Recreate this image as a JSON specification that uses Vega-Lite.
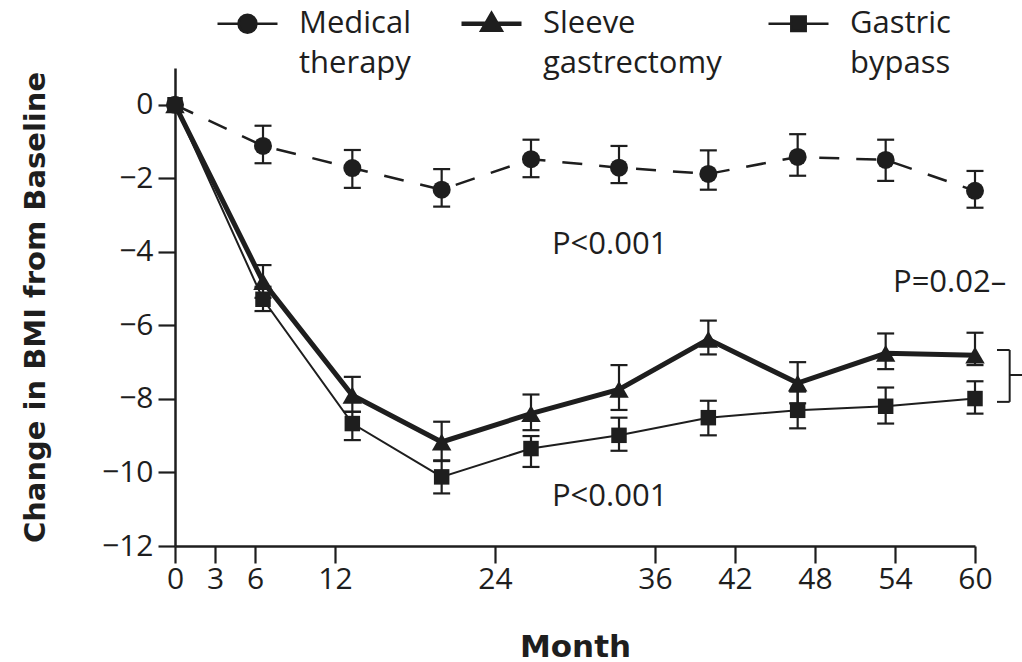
{
  "$schema": "https://vega.github.io/schema/vega-lite/v6.json",
  "width": 800,
  "height": 478,
  "autosize": {"type": "none"},
  "padding": {"left": 175, "top": 68, "right": 47, "bottom": 116},
  "background": "white",
  "config": {
    "view": {"stroke": null},
    "font": "Open Sans",
    "axis": {
      "domainColor": "#1e1e1e", "domainWidth": 2.5,
      "tickColor": "#1e1e1e", "tickWidth": 2.2, "tickSize": 17,
      "labelFont": "Open Sans", "labelFontSize": 30, "labelColor": "#1e1e1e",
      "titleFont": "DejaVu Sans", "titleFontWeight": "bold", "titleColor": "#1e1e1e",
      "grid": false
    }
  },
  "datasets": {
    "series": [
      {"group": "Gastric bypass", "month": 0, "bmi": 0, "lo": null, "hi": null},
      {"group": "Gastric bypass", "month": 6.6, "bmi": -5.29, "lo": -5.61, "hi": -4.95},
      {"group": "Gastric bypass", "month": 13.3, "bmi": -8.67, "lo": -9.12, "hi": -8.35},
      {"group": "Gastric bypass", "month": 20, "bmi": -10.12, "lo": -10.57, "hi": -9.69},
      {"group": "Gastric bypass", "month": 26.7, "bmi": -9.35, "lo": -9.85, "hi": -9.01},
      {"group": "Gastric bypass", "month": 33.3, "bmi": -8.99, "lo": -9.41, "hi": -8.51},
      {"group": "Gastric bypass", "month": 40, "bmi": -8.51, "lo": -8.99, "hi": -8.05},
      {"group": "Gastric bypass", "month": 46.7, "bmi": -8.31, "lo": -8.8, "hi": -7.8},
      {"group": "Gastric bypass", "month": 53.3, "bmi": -8.2, "lo": -8.67, "hi": -7.69},
      {"group": "Gastric bypass", "month": 60, "bmi": -7.99, "lo": -8.4, "hi": -7.52},
      {"group": "Sleeve gastrectomy", "month": 0, "bmi": 0, "lo": null, "hi": null},
      {"group": "Sleeve gastrectomy", "month": 6.6, "bmi": -4.81, "lo": -5.25, "hi": -4.36},
      {"group": "Sleeve gastrectomy", "month": 13.3, "bmi": -7.9, "lo": -8.35, "hi": -7.4},
      {"group": "Sleeve gastrectomy", "month": 20, "bmi": -9.17, "lo": -9.67, "hi": -8.62},
      {"group": "Sleeve gastrectomy", "month": 26.7, "bmi": -8.4, "lo": -8.85, "hi": -7.88},
      {"group": "Sleeve gastrectomy", "month": 33.3, "bmi": -7.74, "lo": -8.3, "hi": -7.08},
      {"group": "Sleeve gastrectomy", "month": 40, "bmi": -6.38, "lo": -6.79, "hi": -5.87},
      {"group": "Sleeve gastrectomy", "month": 46.7, "bmi": -7.57, "lo": -8.12, "hi": -7.0},
      {"group": "Sleeve gastrectomy", "month": 53.3, "bmi": -6.76, "lo": -7.19, "hi": -6.22},
      {"group": "Sleeve gastrectomy", "month": 60, "bmi": -6.81, "lo": -7.08, "hi": -6.2},
      {"group": "Medical therapy", "month": 0, "bmi": 0, "lo": null, "hi": null},
      {"group": "Medical therapy", "month": 6.6, "bmi": -1.12, "lo": -1.59, "hi": -0.57},
      {"group": "Medical therapy", "month": 13.3, "bmi": -1.72, "lo": -2.26, "hi": -1.23},
      {"group": "Medical therapy", "month": 20, "bmi": -2.31, "lo": -2.77, "hi": -1.75},
      {"group": "Medical therapy", "month": 26.7, "bmi": -1.48, "lo": -1.97, "hi": -0.95},
      {"group": "Medical therapy", "month": 33.3, "bmi": -1.71, "lo": -2.13, "hi": -1.12},
      {"group": "Medical therapy", "month": 40, "bmi": -1.88, "lo": -2.31, "hi": -1.24},
      {"group": "Medical therapy", "month": 46.7, "bmi": -1.42, "lo": -1.93, "hi": -0.8},
      {"group": "Medical therapy", "month": 53.3, "bmi": -1.5, "lo": -2.07, "hi": -0.95},
      {"group": "Medical therapy", "month": 60, "bmi": -2.34, "lo": -2.8, "hi": -1.8}
    ],
    "notes": [
      {"label": "P<0.001", "month": 32.6, "bmi": -3.81},
      {"label": "P<0.001", "month": 32.6, "bmi": -10.68}
    ],
    "notes2": [
      {"label": "P=0.02–", "month": 53.85, "bmi": -4.85}
    ],
    "bracket": [
      {"x1": 62.6, "x2": 62.6, "y1": -6.67, "y2": -8.08},
      {"x1": 61.65, "x2": 62.6, "y1": -6.67, "y2": -6.67},
      {"x1": 61.65, "x2": 62.6, "y1": -8.08, "y2": -8.08},
      {"x1": 62.6, "x2": 63.7, "y1": -7.35, "y2": -7.35}
    ]
  },
  "layer": [
    {
      "data": {"name": "series"},
      "transform": [{"filter": "datum.group === 'Medical therapy'"}],
      "mark": {"type": "line", "strokeCap": "butt", "strokeWidth": 2.5, "strokeDash": [20, 17]},
      "encoding": {
        "x": {"field": "month", "type": "quantitative",
          "scale": {"domain": [0, 60], "nice": false, "zero": false},
          "axis": {"values": [0, 3, 6, 12, 24, 36, 42, 48, 54, 60], "labelPadding": 1, "title": "Month", "titleFontSize": 31, "titlePadding": 38, "labelFlush": false}},
        "y": {"field": "bmi", "type": "quantitative",
          "scale": {"domain": [-12, 1], "nice": false, "zero": false},
          "axis": {"values": [-12, -10, -8, -6, -4, -2, 0], "format": "d", "labelPadding": 5, "title": "Change in BMI from Baseline", "titleFontSize": 29, "titlePadding": 51}},
        "order": {"field": "month", "type": "quantitative"},
        "color": {"field": "group", "type": "nominal",
          "scale": {"domain": ["Medical therapy", "Sleeve gastrectomy", "Gastric bypass"], "range": ["#1e1e1e", "#1e1e1e", "#1e1e1e"]},
          "legend": {"orient": "none", "legendX": 57, "legendY": -60, "direction": "horizontal", "title": null,
            "padding": 0, "labelFont": "Open Sans", "labelFontSize": 31, "labelColor": "#1e1e1e",
            "labelLimit": 400, "labelOffset": 36, "symbolSize": 3600, "columnPadding": 41,
            "symbolStrokeWidth": 2, "symbolOpacity": 1,
            "encode": {
              "symbols": {"update": {
                "shape": {"signal": "datum.value === 'Medical therapy' ? 'M-1,0H1M0.3,0A0.3,0.3,0,1,1,-0.3,0A0.3,0.3,0,1,1,0.3,0Z' : datum.value === 'Sleeve gastrectomy' ? 'M-1,0H1M0,-0.3L0.29,0.2L-0.29,0.2Z' : 'M-1,0H1M-0.24,-0.24H0.24V0.24H-0.24Z'"},
                "fill": {"value": "#1e1e1e"},
                "strokeWidth": {"signal": "datum.value === 'Sleeve gastrectomy' ? 4.5 : 2.5"}
              }},
              "labels": {"update": {"lineBreak": {"value": " "}, "lineHeight": {"value": 40}}}
            }}}
      }
    },
    {
      "data": {"name": "series"},
      "transform": [{"filter": "datum.group === 'Sleeve gastrectomy'"}],
      "mark": {"type": "line", "strokeCap": "butt", "strokeJoin": "miter", "strokeWidth": 5},
      "encoding": {
        "x": {"field": "month", "type": "quantitative", "scale": {"domain": [0, 60], "nice": false, "zero": false}, "title": "Month"},
        "y": {"field": "bmi", "type": "quantitative", "scale": {"domain": [-12, 1], "nice": false, "zero": false}, "title": "Change in BMI from Baseline"},
        "order": {"field": "month", "type": "quantitative"},
        "color": {"field": "group", "type": "nominal",
          "scale": {"domain": ["Medical therapy", "Sleeve gastrectomy", "Gastric bypass"], "range": ["#1e1e1e", "#1e1e1e", "#1e1e1e"]}}
      }
    },
    {
      "data": {"name": "series"},
      "transform": [{"filter": "datum.group === 'Gastric bypass'"}],
      "mark": {"type": "line", "strokeCap": "butt", "strokeWidth": 2},
      "encoding": {
        "x": {"field": "month", "type": "quantitative", "scale": {"domain": [0, 60], "nice": false, "zero": false}, "title": "Month"},
        "y": {"field": "bmi", "type": "quantitative", "scale": {"domain": [-12, 1], "nice": false, "zero": false}, "title": "Change in BMI from Baseline"},
        "order": {"field": "month", "type": "quantitative"},
        "color": {"field": "group", "type": "nominal",
          "scale": {"domain": ["Medical therapy", "Sleeve gastrectomy", "Gastric bypass"], "range": ["#1e1e1e", "#1e1e1e", "#1e1e1e"]}}
      }
    },
    {
      "data": {"name": "series"},
      "transform": [{"filter": "isValid(datum.lo)"}],
      "mark": {"type": "errorbar", "color": "#1e1e1e", "opacity": 1, "ticks": {"size": 17, "thickness": 2.2, "color": "#1e1e1e", "opacity": 1}, "rule": {"strokeWidth": 2.2, "color": "#1e1e1e", "opacity": 1}},
      "encoding": {
        "x": {"field": "month", "type": "quantitative", "scale": {"domain": [0, 60], "nice": false, "zero": false}, "title": "Month"},
        "y": {"field": "lo", "type": "quantitative", "scale": {"domain": [-12, 1], "nice": false, "zero": false}, "title": "Change in BMI from Baseline"},
        "y2": {"field": "hi"}
      }
    },
    {
      "data": {"name": "series"},
      "transform": [{"filter": "datum.group === 'Gastric bypass'"}],
      "mark": {"type": "point", "filled": true, "opacity": 1, "color": "#1e1e1e", "size": 240, "shape": "square"},
      "encoding": {
        "x": {"field": "month", "type": "quantitative", "scale": {"domain": [0, 60], "nice": false, "zero": false}, "title": "Month"},
        "y": {"field": "bmi", "type": "quantitative", "scale": {"domain": [-12, 1], "nice": false, "zero": false}, "title": "Change in BMI from Baseline"}
      }
    },
    {
      "data": {"name": "series"},
      "transform": [{"filter": "datum.group === 'Sleeve gastrectomy'"}],
      "mark": {"type": "point", "filled": true, "opacity": 1, "color": "#1e1e1e", "size": 380, "shape": "triangle-up"},
      "encoding": {
        "x": {"field": "month", "type": "quantitative", "scale": {"domain": [0, 60], "nice": false, "zero": false}, "title": "Month"},
        "y": {"field": "bmi", "type": "quantitative", "scale": {"domain": [-12, 1], "nice": false, "zero": false}, "title": "Change in BMI from Baseline"}
      }
    },
    {
      "data": {"name": "series"},
      "transform": [{"filter": "datum.group === 'Medical therapy'"}],
      "mark": {"type": "point", "filled": true, "opacity": 1, "color": "#1e1e1e", "size": 324, "shape": "circle"},
      "encoding": {
        "x": {"field": "month", "type": "quantitative", "scale": {"domain": [0, 60], "nice": false, "zero": false}, "title": "Month"},
        "y": {"field": "bmi", "type": "quantitative", "scale": {"domain": [-12, 1], "nice": false, "zero": false}, "title": "Change in BMI from Baseline"}
      }
    },
    {
      "data": {"name": "notes"},
      "mark": {"type": "text", "font": "Open Sans", "fontSize": 31, "color": "#1e1e1e", "align": "center", "baseline": "middle"},
      "encoding": {
        "x": {"field": "month", "type": "quantitative", "scale": {"domain": [0, 60], "nice": false, "zero": false}, "title": "Month"},
        "y": {"field": "bmi", "type": "quantitative", "scale": {"domain": [-12, 1], "nice": false, "zero": false}, "title": "Change in BMI from Baseline"},
        "text": {"field": "label"}
      }
    },
    {
      "data": {"name": "notes2"},
      "mark": {"type": "text", "font": "Open Sans", "fontSize": 31, "color": "#1e1e1e", "align": "left", "baseline": "middle"},
      "encoding": {
        "x": {"field": "month", "type": "quantitative", "scale": {"domain": [0, 60], "nice": false, "zero": false}, "title": "Month"},
        "y": {"field": "bmi", "type": "quantitative", "scale": {"domain": [-12, 1], "nice": false, "zero": false}, "title": "Change in BMI from Baseline"},
        "text": {"field": "label"}
      }
    },
    {
      "data": {"name": "bracket"},
      "mark": {"type": "rule", "color": "#1e1e1e", "strokeWidth": 2},
      "encoding": {
        "x": {"field": "x1", "type": "quantitative", "scale": {"domain": [0, 60], "nice": false, "zero": false}, "title": "Month"},
        "x2": {"field": "x2"},
        "y": {"field": "y1", "type": "quantitative", "scale": {"domain": [-12, 1], "nice": false, "zero": false}, "title": "Change in BMI from Baseline"},
        "y2": {"field": "y2"}
      }
    }
  ]
}
